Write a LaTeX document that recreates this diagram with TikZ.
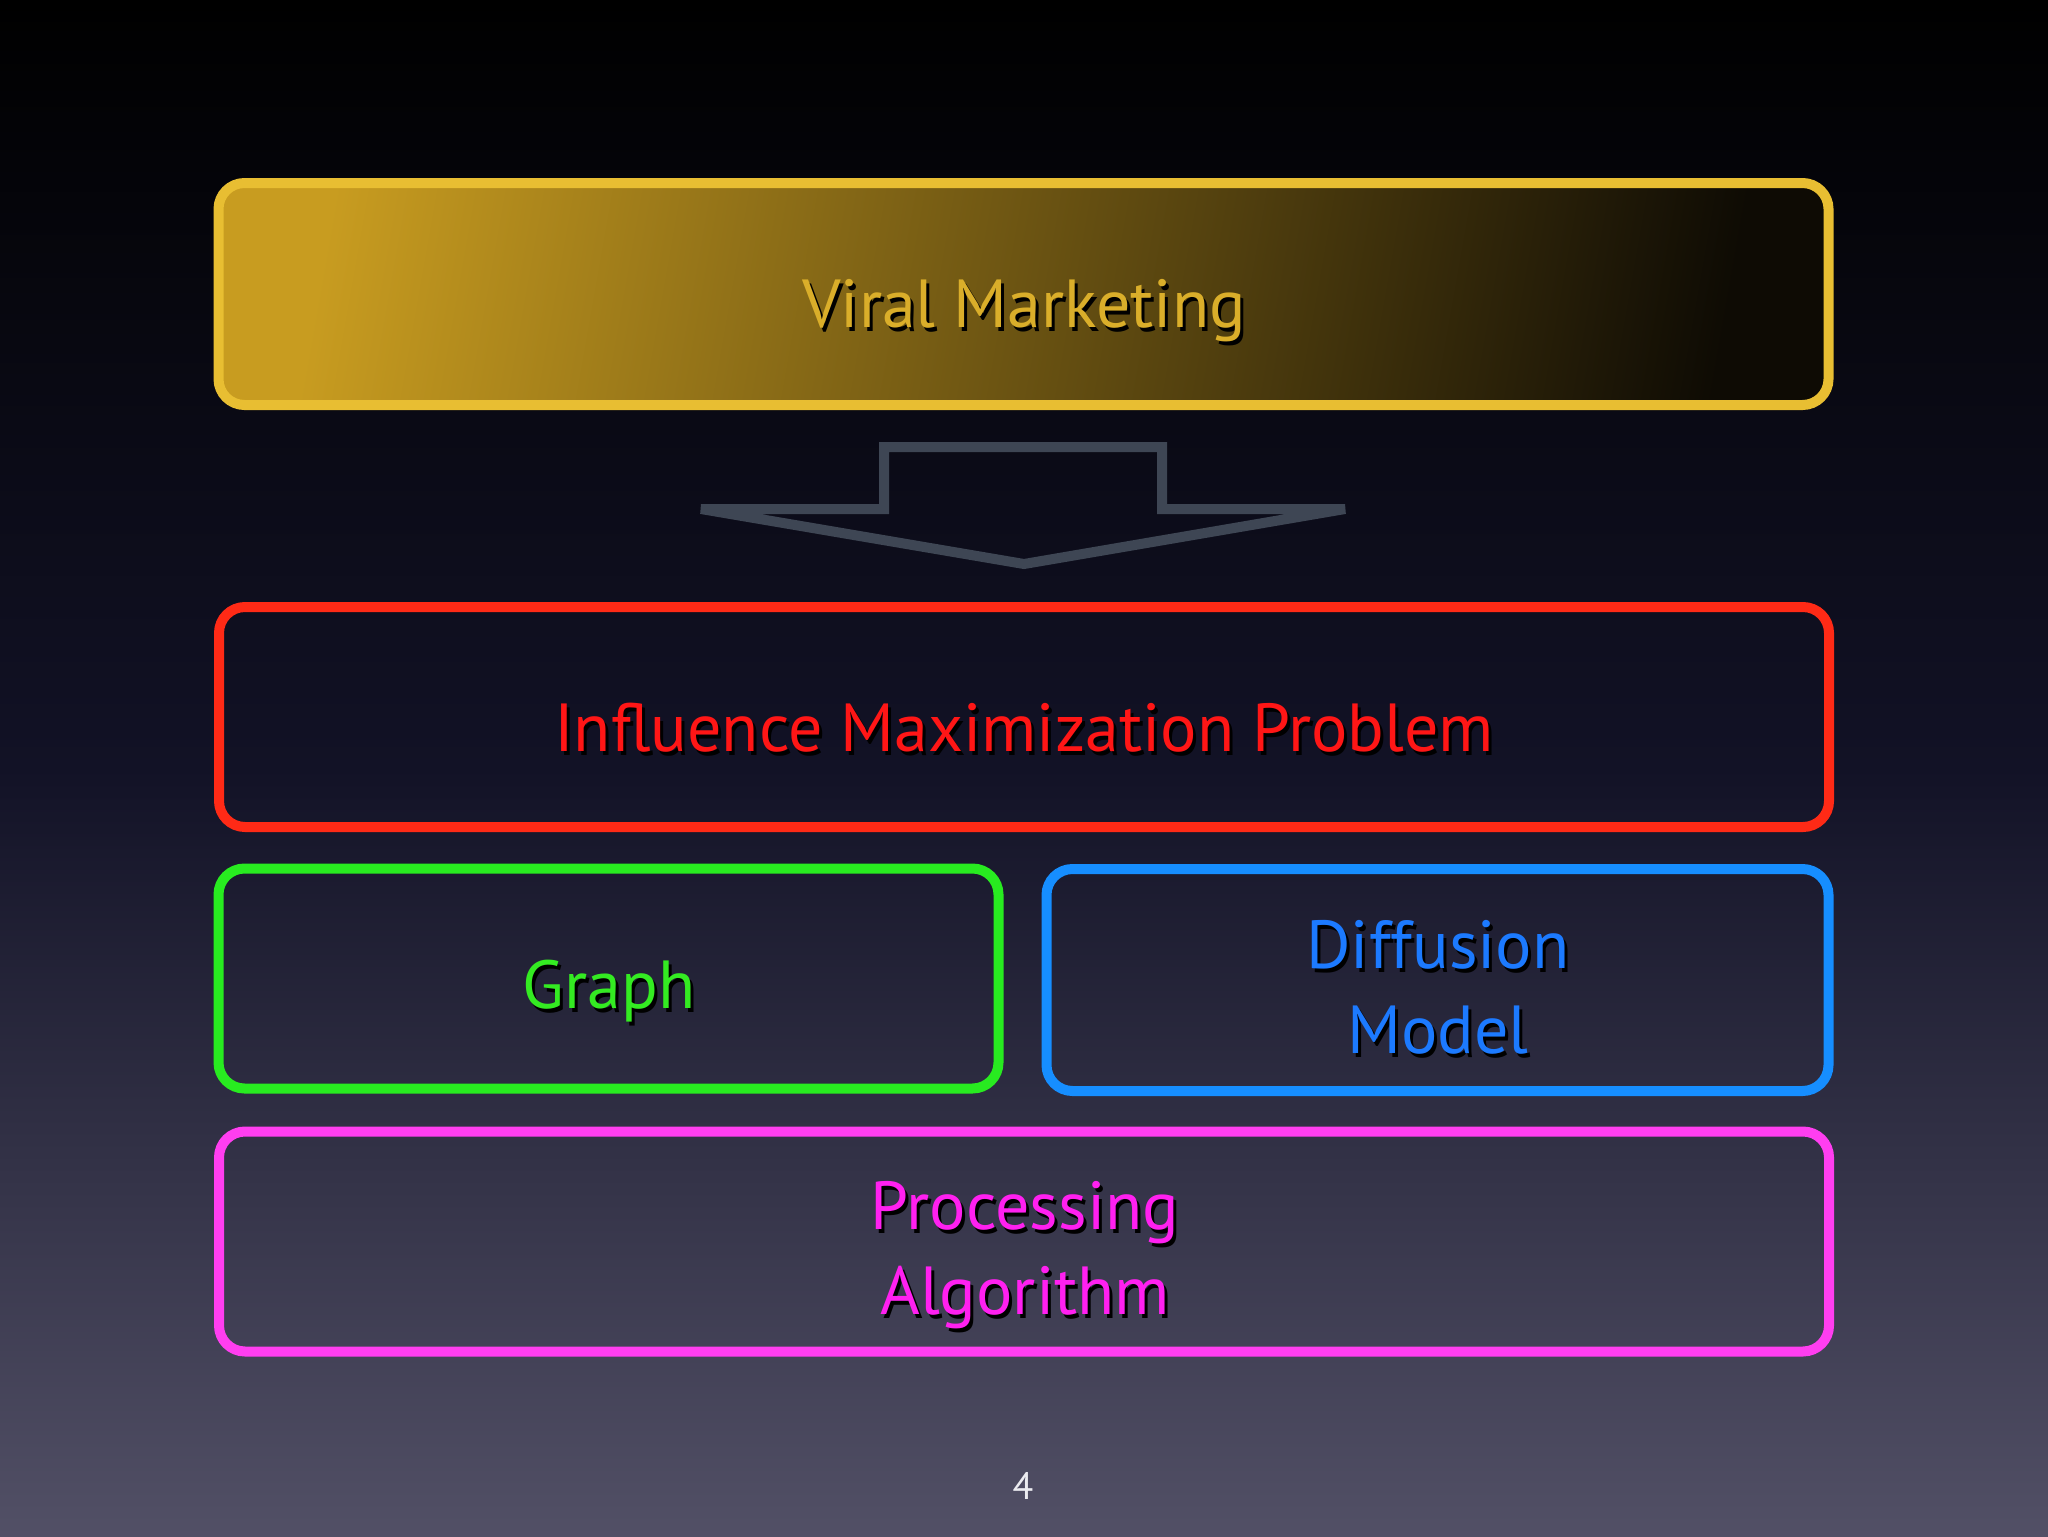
\documentclass[tikz,border=0pt]{standalone}
\usepackage{fontspec}
\setmainfont{PT Sans}
\definecolor{bgtop}{RGB}{0,0,0}
\definecolor{bgmid}{RGB}{18,18,38}
\definecolor{bgbot}{RGB}{82,80,102}
\definecolor{goldline}{RGB}{232,190,50}
\definecolor{goldtext}{RGB}{218,174,42}
\definecolor{goldA}{RGB}{200,156,32}
\definecolor{goldB}{RGB}{14,11,4}
\definecolor{redline}{RGB}{255,42,22}
\definecolor{redtext}{RGB}{255,22,22}
\definecolor{greenline}{RGB}{40,235,32}
\definecolor{greentext}{RGB}{52,235,34}
\definecolor{blueline}{RGB}{22,142,255}
\definecolor{bluetext}{RGB}{28,122,255}
\definecolor{magline}{RGB}{255,62,240}
\definecolor{magtext}{RGB}{255,32,240}
\definecolor{arrowgray}{RGB}{62,70,84}
\definecolor{pagenum}{RGB}{235,235,240}
\newcommand\shadowtext[4]{%
  \node[lbl,text=black,anchor=base] (#1s) at ([shift={(3,4)}]#2) {#4};
  \node[lbl,text=#3,anchor=base] (#1) at (#2) {#4};}
\begin{document}
\begin{tikzpicture}[x=0.5pt,y=-0.5pt,
  box/.style={rectangle, rounded corners=13pt, line width=5pt, draw, inner sep=0pt},
  lbl/.style={font=\fontsize{34}{42}\selectfont, inner sep=0pt}]
\shade[top color=bgtop, bottom color=bgbot, middle color=bgmid] (0,0) rectangle (2048,1536);
\useasboundingbox (0,0) rectangle (2048,1536);
% boxes
\node[box, draw=goldline, left color=goldA, right color=goldB, shading angle=80, minimum width=805pt, minimum height=111pt] (vm) at (1023.5,294) {};
\node[box, draw=redline, minimum width=805pt, minimum height=110pt] (imp) at (1024,717) {};
\node[box, draw=greenline, minimum width=390pt, minimum height=110pt] (gr) at (608.5,978.5) {};
\node[box, draw=blueline, minimum width=391pt, minimum height=111pt] (dm) at (1437.5,980) {};
\node[box, draw=magline, minimum width=805pt, minimum height=110pt] (pa) at (1024,1241.5) {};
% block arrow
\coordinate (a1) at (884,447);
\coordinate (a2) at (1162,447);
\coordinate (a3) at (1162,509);
\coordinate (a4) at (1345,509);
\coordinate (a5) at (1024,564);
\coordinate (a6) at (701,509);
\coordinate (a7) at (884,509);
\draw[arrowgray, line width=5pt, line join=miter] (a1) -- (a2) -- (a3) -- (a4) -- (a5) -- (a6) -- (a7) -- cycle;
% texts
\shadowtext{vmt}{1024,327}{goldtext}{Viral Marketing}
\shadowtext{impt}{1024,751}{redtext}{Influence Maximization Problem}
\shadowtext{grt}{609,1008}{greentext}{Graph}
\shadowtext{dmt1}{1438,968}{bluetext}{Diffusion}
\shadowtext{dmt2}{1438,1053}{bluetext}{Model}
\shadowtext{pat1}{1025,1229}{magtext}{Processing}
\shadowtext{pat2}{1025,1314}{magtext}{Algorithm}
\node[font=\fontsize{19}{22}\selectfont, text=pagenum, anchor=base, inner sep=0pt] (pg) at (1023,1499) {4};
\end{tikzpicture}
\end{document}
